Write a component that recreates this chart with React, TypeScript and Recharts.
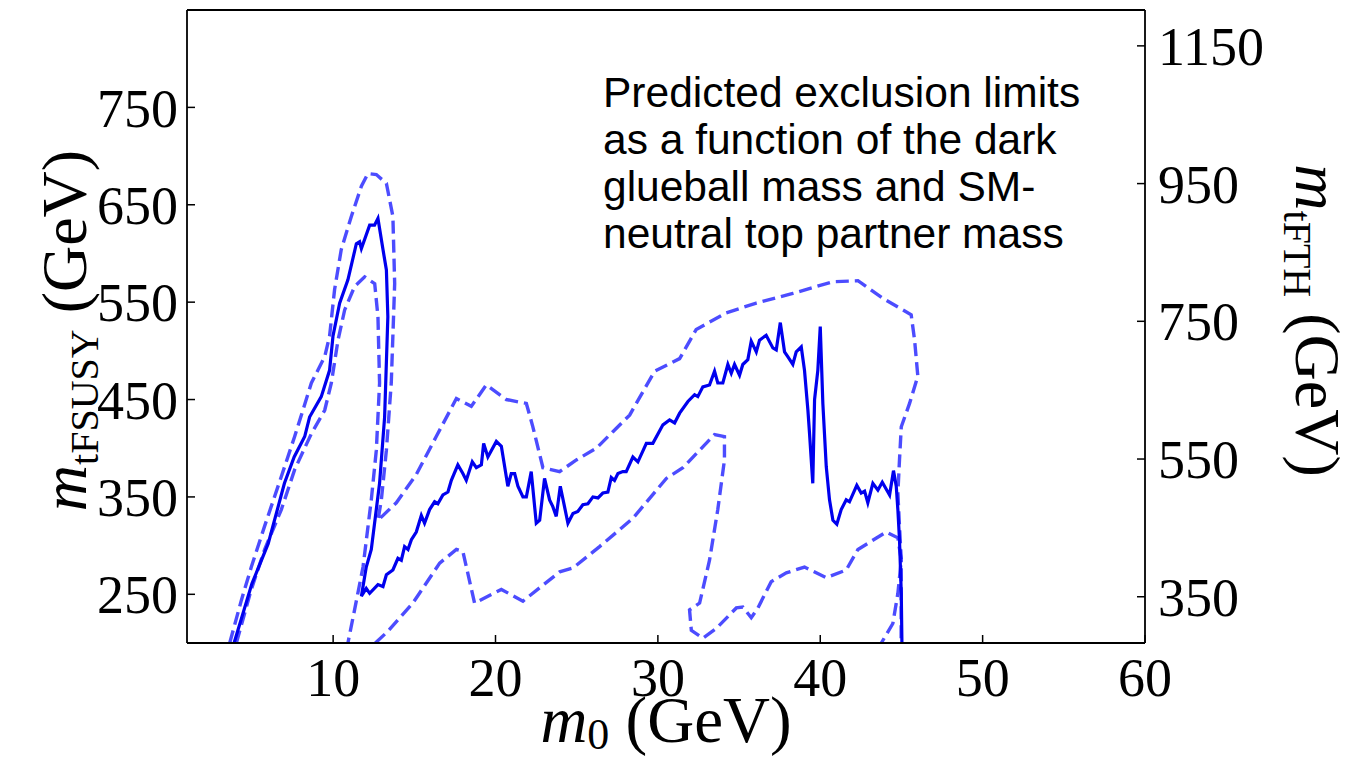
import React from "react";
import { ComposedChart, Line, XAxis, YAxis, ReferenceLine } from "recharts";

// ---- axis ticks ----
const xTicks = [10, 20, 30, 40, 50, 60];
const leftTicks = [250, 350, 450, 550, 650, 750];
const rightTicks = [350, 550, 750, 950, 1150];
const xDomain: [number, number] = [1, 60];
const leftDomain: [number, number] = [200, 850];
// right axis: m_tFTH = sqrt(2) * m_tFSUSY
const rightDomain: [number, number] = [200 * Math.SQRT2, 850 * Math.SQRT2];

// ---- curves (m0 [GeV], m_tFSUSY [GeV]) ----
const expectedLimit: [number, number][] = [
  [3.9, 200], [5.0, 261], [6.0, 302], [7.0, 364], [7.6, 391], [8.25, 412], [8.55, 432], [9.27, 453],
  [9.78, 480], [9.99, 515], [10.4, 549], [10.91, 573], [11.43, 610], [11.63, 612], [11.74, 605],
  [12.25, 629], [12.55, 629], [12.76, 636], [13.07, 604], [13.28, 583], [13.37, 535], [13.17, 432],
  [12.86, 364], [12.35, 296], [12.04, 278], [11.74, 248],
  [12.04, 256], [12.25, 251], [12.76, 260], [13.07, 258], [13.28, 270], [13.68, 275], [13.99, 287],
  [14.2, 285], [14.4, 299], [14.61, 296], [14.82, 306], [15.12, 314], [15.43, 331], [15.63, 323],
  [15.94, 337], [16.25, 345], [16.45, 343], [16.76, 352], [17.07, 355], [17.28, 367], [17.68, 383],
  [17.99, 374], [18.2, 367], [18.57, 386], [18.82, 380], [19.13, 383], [19.27, 405], [19.53, 391],
  [20.05, 407], [20.36, 402], [20.76, 361], [20.97, 374], [21.18, 374], [21.38, 361], [21.69, 350],
  [21.9, 350], [22.2, 376], [22.51, 323], [22.72, 326], [23.02, 369], [23.33, 347], [23.53, 340],
  [23.74, 330], [23.99, 361], [24.25, 340], [24.46, 323], [24.77, 333], [25.07, 335], [25.38, 342],
  [25.69, 343], [26.0, 350], [26.31, 349], [26.61, 354], [26.92, 355], [27.13, 370], [27.33, 367],
  [27.54, 374], [27.84, 376], [28.05, 376], [28.46, 391], [28.77, 386], [29.29, 405], [29.69, 405],
  [30.31, 424], [30.72, 429], [31.03, 426], [31.34, 436], [31.85, 448], [32.26, 455], [32.46, 453],
  [32.77, 463], [33.18, 465], [33.49, 479], [33.69, 467], [34.0, 467], [34.31, 486], [34.52, 477],
  [34.72, 486], [35.03, 475], [35.23, 486], [35.54, 491], [35.75, 510], [36.06, 499], [36.26, 511],
  [36.67, 516], [37.08, 503], [37.29, 501], [37.54, 529], [37.8, 499], [38.0, 494], [38.31, 486],
  [38.52, 499], [38.83, 504], [39.03, 480], [39.24, 439], [39.34, 415], [39.54, 364], [39.65, 450],
  [39.85, 480], [40.0, 525], [40.16, 446], [40.37, 381], [40.57, 347], [40.78, 326], [41.02, 322],
  [41.29, 337], [41.6, 347], [41.8, 345], [42.25, 362], [42.52, 354], [42.73, 356], [42.93, 344],
  [43.24, 364], [43.55, 357], [43.82, 365], [44.27, 352], [44.51, 377], [44.68, 361], [44.78, 337],
  [44.88, 306], [44.99, 251], [45.03, 200],
];

const upperBand: [number, number][] = [
  [3.63, 200], [4.35, 244], [4.96, 278], [5.78, 320], [6.81, 371], [7.63, 412], [8.66, 467],
  [9.48, 494], [9.78, 515], [10.09, 563], [10.5, 604], [11.12, 638], [11.74, 669], [12.14, 682],
  [12.66, 681], [13.28, 672], [13.68, 638], [13.79, 569], [13.58, 467], [13.28, 398], [12.97, 347],
  [12.76, 326], [13.89, 344], [15.12, 373], [16.35, 412], [17.59, 451], [18.51, 443], [19.43, 465],
  [20.67, 450], [21.9, 446], [22.3, 422], [22.92, 380], [23.95, 376], [24.98, 388], [26.21, 400],
  [27.23, 417], [28.26, 434], [29.8, 479], [31.34, 492], [32.36, 522], [34.21, 539], [36.06, 549],
  [38.31, 559], [40.78, 571], [42.32, 572], [43.85, 554], [45.6, 537], [45.81, 511], [46.01, 474],
  [45.5, 446], [44.99, 422], [44.88, 388], [44.78, 354], [44.88, 320], [44.99, 285], [44.98, 200],
];

const lowerBandLeft: [number, number][] = [
  [4.04, 200], [4.96, 255], [5.78, 296], [6.81, 337], [7.63, 378], [8.66, 415], [9.48, 439],
  [9.89, 467], [10.3, 511], [10.71, 542], [11.32, 566], [11.94, 576], [12.56, 569], [12.76, 535],
  [12.86, 467], [12.66, 398], [12.35, 347], [11.84, 278], [11.32, 234], [10.91, 200],
];

const lowerBandRight: [number, number][] = [
  [12.6, 200], [13.37, 212], [14.91, 241], [16.56, 282], [17.59, 296], [17.99, 294], [18.71, 241],
  [20.36, 255], [21.69, 243], [23.95, 273], [24.77, 277], [26.41, 299], [28.46, 328], [30.52, 369],
  [31.54, 380], [32.57, 398], [33.49, 414], [34.1, 412], [34.1, 388], [33.69, 337], [33.18, 285],
  [32.57, 241], [31.95, 234], [32.06, 213], [32.77, 205], [33.6, 215], [34.83, 236], [35.23, 237],
  [35.75, 226], [36.16, 236], [36.98, 263], [37.91, 272], [39.03, 278], [40.37, 267], [41.6, 275],
  [42.32, 296], [44.06, 314], [44.78, 308], [44.99, 285], [44.78, 251], [44.47, 220], [43.76, 200],
];

const annotationLines = [
  "Predicted exclusion limits",
  "as a function of the dark",
  "glueball mass and SM-",
  "neutral top partner mass",
];

const toPoints = (pts: [number, number][]) => pts.map(([x, y]) => ({ x, y }));

// ---- layout ----
const W = 1368;
const H = 759;
const TOP = 10;
const LEFT_W = 187;
const RIGHT_W = 223;
const X_H = 116;
const PLOT_H = H - TOP - X_H;
const PLOT_W = W - LEFT_W - RIGHT_W;

const SERIF = "'Liberation Serif', 'Times New Roman', serif";
const tickStyle = { fontFamily: SERIF, fontSize: 54, fill: "#000" };
const LABEL_FS = 64;
const SUB_FS = 42;

const XLabel = () => (
  <text x={LEFT_W + PLOT_W / 2} y={742} textAnchor="middle" fontFamily={SERIF} fontSize={65} fill="#000">
    <tspan fontStyle="italic">m</tspan>
    <tspan fontSize={44} dy={7}>0</tspan>
    <tspan dy={-7}>{"\u00A0(GeV)"}</tspan>
  </text>
);

const LeftLabel = () => (
  <text
    transform={`translate(86, ${TOP + PLOT_H / 2 + 4}) rotate(-90)`}
    textAnchor="middle"
    fontFamily={SERIF}
    fontSize={LABEL_FS}
    fill="#000"
  >
    <tspan fontStyle="italic">m</tspan>
    <tspan fontSize={SUB_FS - 2} dy={12}>tFSUSY</tspan>
    <tspan dy={-12}>{"\u00A0(GeV)"}</tspan>
  </text>
);

const RightLabel = () => (
  <text
    transform={`translate(1296, ${TOP + PLOT_H / 2 - 6}) rotate(90)`}
    textAnchor="middle"
    fontFamily={SERIF}
    fontSize={LABEL_FS}
    fill="#000"
  >
    <tspan fontStyle="italic">m</tspan>
    <tspan fontSize={SUB_FS - 2} dy={12}>tFTH</tspan>
    <tspan dy={-12}>{"\u00A0(GeV)"}</tspan>
  </text>
);

const SOLID = "#0000ee";
const DASH = "#0000ff";

const dashedProps = {
  dataKey: "y",
  yAxisId: "left",
  type: "linear" as const,
  stroke: DASH,
  strokeOpacity: 0.7,
  strokeWidth: 3.4,
  strokeDasharray: "13 6",
  dot: false,
  activeDot: false,
  isAnimationActive: false,
};

export default function App() {
  return (
    <div style={{ position: "absolute", left: 0, top: 0, width: W, height: H, background: "#fff" }}>
      <ComposedChart width={W} height={H} margin={{ top: TOP, right: 0, bottom: 0, left: 0 }}>
        <XAxis
          type="number"
          dataKey="x"
          domain={xDomain}
          ticks={xTicks}
          allowDataOverflow
          interval={0}
          height={X_H}
          tickSize={-8}
          tickMargin={23}
          tick={tickStyle}
          axisLine={{ stroke: "#000", strokeWidth: 1.8 }}
          tickLine={{ stroke: "#000", strokeWidth: 1.5 }}
          label={{ content: () => <XLabel /> }}
        />
        <YAxis
          yAxisId="left"
          type="number"
          domain={leftDomain}
          ticks={leftTicks}
          allowDataOverflow
          interval={0}
          width={LEFT_W}
          tickSize={-8}
          tickMargin={17}
          tick={tickStyle}
          axisLine={{ stroke: "#000", strokeWidth: 1.8 }}
          tickLine={{ stroke: "#000", strokeWidth: 1.5 }}
          label={{ content: () => <LeftLabel /> }}
        />
        <YAxis
          yAxisId="right"
          orientation="right"
          type="number"
          domain={rightDomain}
          ticks={rightTicks}
          allowDataOverflow
          interval={0}
          width={RIGHT_W}
          tickSize={-8}
          tickMargin={21}
          tick={tickStyle}
          axisLine={{ stroke: "#000", strokeWidth: 1.8 }}
          tickLine={{ stroke: "#000", strokeWidth: 1.5 }}
          label={{ content: () => <RightLabel /> }}
        />
        <ReferenceLine yAxisId="left" y={850} stroke="#000" strokeWidth={1.8} />
        <Line data={toPoints(upperBand)} {...dashedProps} />
        <Line data={toPoints(lowerBandLeft)} {...dashedProps} />
        <Line data={toPoints(lowerBandRight)} {...dashedProps} />
        <Line
          data={toPoints(expectedLimit)}
          dataKey="y"
          yAxisId="left"
          type="linear"
          stroke={SOLID}
          strokeWidth={3.2}
          dot={false}
          activeDot={false}
          isAnimationActive={false}
        />
      </ComposedChart>
      <div
        style={{
          position: "absolute",
          left: 603,
          top: 69,
          fontFamily: "'Liberation Sans', Arial, sans-serif",
          fontSize: 42.5,
          lineHeight: "47px",
          color: "#000",
          whiteSpace: "pre",
        }}
      >
        {annotationLines.map((t) => (
          <div key={t}>{t}</div>
        ))}
      </div>
    </div>
  );
}
